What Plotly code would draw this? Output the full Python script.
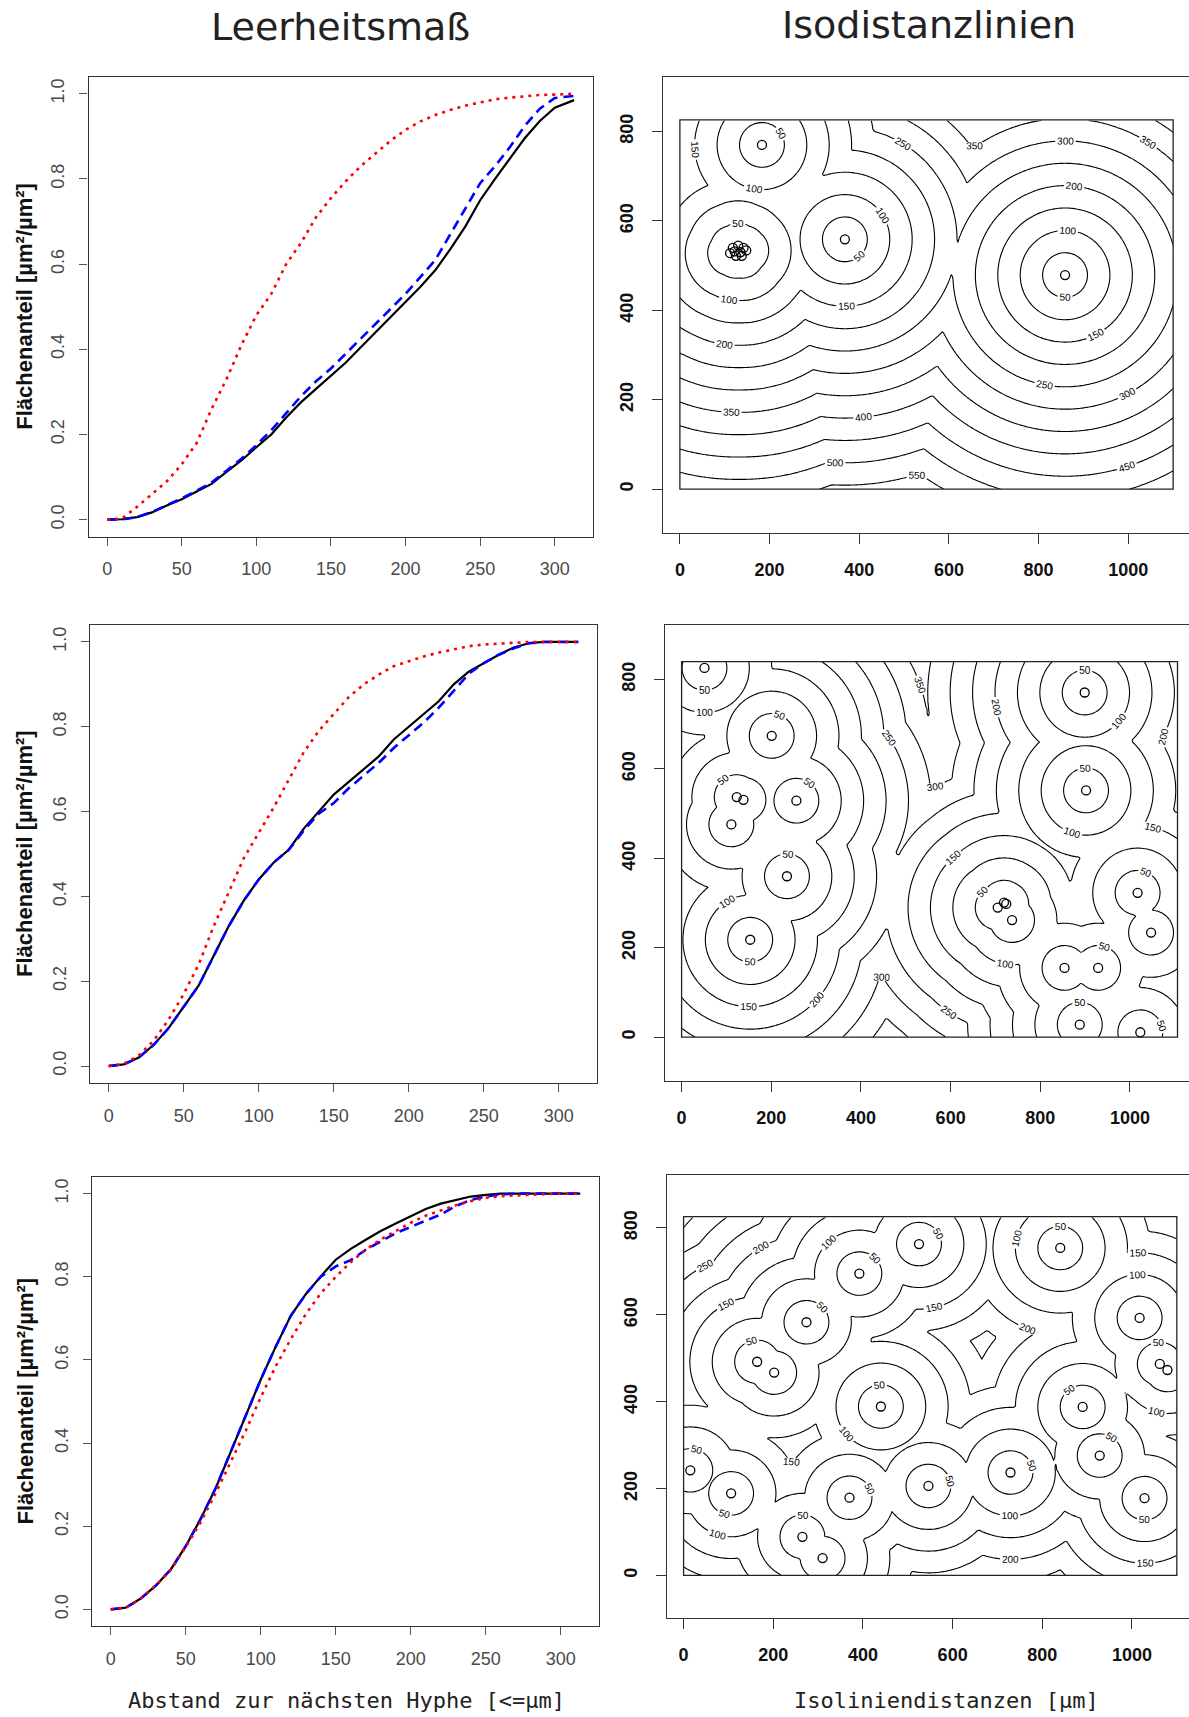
import numpy as np
import plotly.graph_objects as go

W, H = 1189, 1717

# ---------------- CDF data (Leerheitsmaß) ----------------
dist = [0, 10, 20, 30, 40, 50, 60, 70, 80, 90, 100, 110, 120, 130, 140, 150, 160,
        170, 180, 190, 200, 210, 220, 230, 240, 250, 260, 270, 280, 290, 300, 313]

black1 = [0, 0.001, 0.006, 0.017, 0.033, 0.048, 0.066, 0.084, 0.112, 0.139, 0.17, 0.20,
          0.24, 0.276, 0.307, 0.338, 0.369, 0.405, 0.44, 0.476, 0.511, 0.547, 0.586,
          0.635, 0.688, 0.75, 0.80, 0.848, 0.896, 0.936, 0.967, 0.985]
blue1 = [0, 0.001, 0.006, 0.018, 0.034, 0.05, 0.068, 0.087, 0.115, 0.143, 0.175, 0.21,
         0.25, 0.29, 0.325, 0.355, 0.39, 0.425, 0.46, 0.495, 0.53, 0.57, 0.61, 0.67,
         0.73, 0.79, 0.83, 0.875, 0.925, 0.965, 0.99, 0.995]
red1 = [0, 0.003, 0.03, 0.06, 0.09, 0.13, 0.18, 0.26, 0.33, 0.41, 0.48, 0.53, 0.60, 0.65,
        0.71, 0.755, 0.795, 0.83, 0.86, 0.89, 0.915, 0.935, 0.95, 0.962, 0.972, 0.98,
        0.987, 0.991, 0.994, 0.997, 0.998, 1.0]

black2 = [0, 0.004, 0.02, 0.05, 0.09, 0.14, 0.19, 0.26, 0.33, 0.39, 0.44, 0.48, 0.51,
          0.56, 0.60, 0.64, 0.67, 0.70, 0.73, 0.77, 0.80, 0.83, 0.86, 0.90, 0.93, 0.95,
          0.97, 0.987, 0.997, 1, 1, 1]
blue2 = [0, 0.004, 0.02, 0.05, 0.09, 0.14, 0.19, 0.26, 0.33, 0.39, 0.44, 0.48, 0.51,
         0.555, 0.595, 0.62, 0.655, 0.685, 0.715, 0.75, 0.78, 0.81, 0.845, 0.885, 0.925,
         0.95, 0.97, 0.985, 0.997, 1, 1, 1]
red2 = [0, 0.005, 0.025, 0.06, 0.11, 0.17, 0.24, 0.33, 0.41, 0.49, 0.55, 0.61, 0.675,
        0.74, 0.79, 0.83, 0.87, 0.90, 0.923, 0.943, 0.955, 0.966, 0.975, 0.983, 0.99,
        0.994, 0.996, 0.998, 1, 1, 1, 1]

black3 = [0, 0.004, 0.026, 0.057, 0.096, 0.152, 0.218, 0.292, 0.379, 0.466, 0.553, 0.632,
          0.706, 0.758, 0.801, 0.841, 0.867, 0.889, 0.91, 0.928, 0.945, 0.963, 0.976,
          0.984, 0.993, 0.997, 1, 1, 1, 1, 1, 1]
blue3 = [0, 0.004, 0.026, 0.057, 0.096, 0.152, 0.218, 0.292, 0.379, 0.466, 0.553, 0.632,
         0.706, 0.758, 0.80, 0.825, 0.84, 0.865, 0.885, 0.905, 0.92, 0.935, 0.95, 0.97,
         0.985, 0.993, 0.998, 1, 1, 1, 1, 1]
red3 = [0, 0.004, 0.026, 0.057, 0.095, 0.15, 0.21, 0.28, 0.355, 0.43, 0.51, 0.585, 0.65,
        0.71, 0.76, 0.80, 0.835, 0.865, 0.89, 0.91, 0.93, 0.947, 0.96, 0.972, 0.982,
        0.99, 0.994, 0.996, 0.998, 0.999, 1, 1]

# ---------------- Hyphae positions (Isodistanzlinien) ----------------
hx1 = [183, 112, 118, 125, 130, 135, 142, 148, 122, 138, 368, 859]
hy1 = [770, 528, 540, 522, 545, 530, 540, 534, 532, 522, 559, 479]
ext1 = (1100, 826)

hx2 = [51, 201, 123, 138, 111, 256, 235, 153, 899, 902, 705, 719, 724, 737, 1017, 1047,
       854, 929, 888, 1023]
hy2 = [826, 674, 537, 531, 476, 529, 360, 218, 771, 552, 290, 301, 298, 262, 323, 234,
       155, 155, 28, 11]
ext2 = (1106, 840)

hx3 = [525, 392, 274, 164, 202, 440, 840, 1017, 1062, 1079, 890, 928, 729, 1028, 546,
       370, 106, 15, 265, 310]
hy3 = [763, 695, 583, 492, 467, 389, 754, 593, 487, 473, 388, 276, 237, 178, 206, 179,
       189, 242, 89, 40]
ext3 = (1100, 826)

iso_levels = (50, 600, 50)

x_ticks_left = [0, 50, 100, 150, 200, 250, 300]
y_ticks_left = [0, 0.2, 0.4, 0.6, 0.8, 1.0]
y_ticktext_left = ["0.0", "0.2", "0.4", "0.6", "0.8", "1.0"]
x_ticks_right = [0, 200, 400, 600, 800, 1000]
y_ticks_right = [0, 200, 400, 600, 800]

# panel boxes in pixels: (left, right, top, bottom)
left_boxes = [(88.5, 592.8, 76.7, 536.7), (90.0, 597.0, 625.0, 1083.0), (92.0, 599.0, 1177.0, 1626.0)]
right_boxes = [(663.3, 1189.0, 77.0, 533.0), (665.0, 1189.0, 625.0, 1081.0), (667.0, 1189.0, 1175.0, 1618.0)]

fig = go.Figure()
layout = {}


def dom_x(a, b):
    return [a / W, min(b / W, 1.0)]


def dom_y(t, b):
    return [1 - b / H, 1 - t / H]


cdf_sets = [(black1, blue1, red1), (black2, blue2, red2), (black3, blue3, red3)]
hyph = [(hx1, hy1, ext1), (hx2, hy2, ext2), (hx3, hy3, ext3)]

tick_font_left = dict(family="Liberation Sans, Arial, sans-serif", size=18, color="#4a4a4a")
tick_font_right = dict(family="Liberation Sans, Arial, sans-serif", size=18, color="#111111", weight="bold")

for r in range(3):
    li = 2 * r + 1
    ri = 2 * r + 2
    lx = "x" if li == 1 else f"x{li}"
    ly = "y" if li == 1 else f"y{li}"
    rx = f"x{ri}"
    ry = f"y{ri}"

    blk, blu, red = cdf_sets[r]
    fig.add_trace(go.Scatter(x=dist, y=blk, mode="lines", line=dict(color="black", width=2.2),
                             xaxis=lx, yaxis=ly, showlegend=False, hoverinfo="skip"))
    fig.add_trace(go.Scatter(x=dist, y=blu, mode="lines",
                             line=dict(color="#0000ff", width=2.6, dash="10px,6px"),
                             xaxis=lx, yaxis=ly, showlegend=False, hoverinfo="skip"))
    fig.add_trace(go.Scatter(x=dist, y=red, mode="lines",
                             line=dict(color="#ff0000", width=2.6, dash="3px,5px"),
                             xaxis=lx, yaxis=ly, showlegend=False, hoverinfo="skip"))

    L, R, T, B = left_boxes[r]
    layout["xaxis" if li == 1 else f"xaxis{li}"] = dict(
        domain=dom_x(L, R), range=[-12.5, 325.5], anchor=ly,
        showline=True, mirror=True, linecolor="#333333", linewidth=1.2,
        showgrid=False, zeroline=False, ticks="outside", ticklen=8, tickcolor="#555555",
        tickvals=x_ticks_left, tickfont=tick_font_left, ticklabelstandoff=8)
    layout["yaxis" if li == 1 else f"yaxis{li}"] = dict(
        domain=dom_y(T, B), range=[-0.04, 1.04], anchor=lx,
        showline=True, mirror=True, linecolor="#333333", linewidth=1.2,
        showgrid=False, zeroline=False, ticks="outside", ticklen=8, tickcolor="#555555",
        tickvals=y_ticks_left, ticktext=y_ticktext_left, tickangle=-90,
        tickfont=tick_font_left, ticklabelstandoff=8)

    # isodistance field
    hx, hy, (ex, ey) = hyph[r]
    gx = np.arange(0, ex + 0.1, 5.0)
    gy = np.arange(0, ey + 0.1, 5.0)
    GX, GY = np.meshgrid(gx, gy)
    px = np.array(hx, dtype=float)[:, None, None]
    py = np.array(hy, dtype=float)[:, None, None]
    Z = np.sqrt((GX[None] - px) ** 2 + (GY[None] - py) ** 2).min(axis=0)
    Z = np.round(Z, 1)
    s0, s1, ss = iso_levels
    fig.add_trace(go.Contour(x=gx, y=gy, z=Z, xaxis=rx, yaxis=ry, showscale=False,
                             contours=dict(start=s0, end=s1, size=ss, coloring="none",
                                           showlabels=True,
                                           labelfont=dict(size=10, color="black",
                                                          family="Liberation Sans, Arial, sans-serif")),
                             line=dict(color="black", width=1.1), hoverinfo="skip"))
    fig.add_trace(go.Scatter(x=hx, y=hy, mode="markers", xaxis=rx, yaxis=ry,
                             marker=dict(symbol="circle-open", size=9, color="black",
                                         line=dict(width=1.3, color="black")),
                             showlegend=False, hoverinfo="skip"))
    fig.add_shape(type="rect", xref=rx, yref=ry, x0=0, y0=0, x1=ex, y1=ey,
                  line=dict(color="#222222", width=1.3))

    L2, R2, T2, B2 = right_boxes[r]
    scale = 0.4484
    xr0 = -37.0
    xr1 = xr0 + (R2 - L2) / scale
    layout[f"xaxis{ri}"] = dict(
        domain=dom_x(L2, R2), range=[xr0, xr1], anchor=ry,
        showline=True, mirror=True, linecolor="#333333", linewidth=1.2,
        showgrid=False, zeroline=False, ticks="outside", ticklen=10, tickcolor="#333333",
        tickvals=x_ticks_right, tickfont=tick_font_right, ticklabelstandoff=10)
    layout[f"yaxis{ri}"] = dict(
        domain=dom_y(T2, B2), range=[-98, 922], anchor=rx,
        showline=True, mirror=False, linecolor="#333333", linewidth=1.2,
        showgrid=False, zeroline=False, ticks="outside", ticklen=10, tickcolor="#333333",
        tickvals=y_ticks_right, tickangle=-90, tickfont=tick_font_right, ticklabelstandoff=12)

annotations = [
    dict(text="Leerheitsmaß", x=341 / W, y=1 - 27 / H, xref="paper", yref="paper",
         showarrow=False, xanchor="center", yanchor="middle",
         font=dict(family="DejaVu Sans", size=38, color="#222222")),
    dict(text="Isodistanzlinien", x=929 / W, y=1 - 25 / H, xref="paper", yref="paper",
         showarrow=False, xanchor="center", yanchor="middle",
         font=dict(family="DejaVu Sans", size=38, color="#222222")),
    dict(text="Abstand zur nächsten Hyphe [<=µm]", x=346 / W, y=1 - 1700 / H,
         xref="paper", yref="paper", showarrow=False, xanchor="center", yanchor="middle",
         font=dict(family="DejaVu Sans Mono", size=22, color="#222222")),
    dict(text="Isoliniendistanzen [µm]", x=946 / W, y=1 - 1700 / H,
         xref="paper", yref="paper", showarrow=False, xanchor="center", yanchor="middle",
         font=dict(family="DejaVu Sans Mono", size=22, color="#222222")),
]
for (L, R, T, B) in left_boxes:
    annotations.append(dict(text="Flächenanteil [µm²/µm²]", x=25 / W, y=1 - ((T + B) / 2) / H,
                            xref="paper", yref="paper", showarrow=False, textangle=-90,
                            xanchor="center", yanchor="middle",
                            font=dict(family="Liberation Sans, Arial, sans-serif", size=22,
                                      color="#111111", weight="bold")))

fig.update_layout(width=W, height=H, margin=dict(l=0, r=0, t=0, b=0),
                  paper_bgcolor="white", plot_bgcolor="white", showlegend=False,
                  annotations=annotations, **layout)

fig.write_html("out.html", config={"displayModeBar": False},
               post_script="document.body.style.margin='0';document.body.style.overflow='hidden';")
